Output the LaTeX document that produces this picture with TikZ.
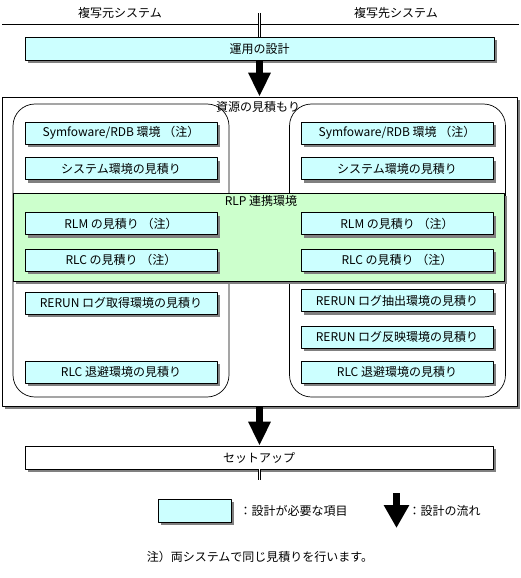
\documentclass[tikz,border=0pt]{standalone}
\usepackage{fontspec}
\setmainfont{Noto Sans CJK JP}
\usetikzlibrary{arrows.meta,shadows}
\definecolor{itemcyan}{RGB}{204,255,255}
\definecolor{rlpgreen}{RGB}{204,255,204}
\begin{document}
\begin{tikzpicture}[x=1pt,y=-1pt,line join=round,line width=.7pt,
	font=\fontsize{12}{14}\selectfont,
	boxshadow/.style={general shadow={fill=gray,shadow xshift=3pt,shadow yshift=-3pt}},
	item/.style={draw,fill=itemcyan,boxshadow,minimum width=192pt,minimum height=22pt,inner sep=0pt},
	wide/.style={draw,boxshadow,minimum width=469pt,minimum height=23pt,inner sep=0pt},
	env/.style={draw,rounded corners=22pt,minimum width=216pt,minimum height=293pt},
	flow/.style={line width=7pt,-{Triangle[width=21pt,length=24pt]}},
	twin/.style={double,double distance=1.6pt}]
	\useasboundingbox (0,0) rectangle (521,578);
	% systems
	\node (src) at (120,13) {複写元システム};
	\node (dst) at (396,13) {複写先システム};
	\coordinate (hl) at (2,24);
	\coordinate (hr) at (519,24);
	\draw (hl) -- (hr);
	\coordinate (dtop) at (259.5,13);
	\node[wide,fill=itemcyan] (design) at (259.5,48.5) {運用の設計};
	\draw[twin] (dtop) -- (dtop |- design.north);
	% resources
	\node[draw,fill=white,boxshadow,minimum width=515pt,minimum height=309pt] (res) at (259.5,251.5) {};
	\draw[flow] (design.south) -- (design.south |- res.north);
	\node (restitle) at (258,107) {資源の見積もり};
	\node[env] (srcenv) at (121,250.5) {};
	\node[env] (dstenv) at (397.5,250.5) {};
	\node[draw,fill=rlpgreen,boxshadow,minimum width=491pt,minimum height=88pt] (rlp) at (258.5,237) {};
	\node (rlptitle) at (261,201) {RLP 連携環境};
	% source side
	\node[item] (s1) at (121,133) {Symfoware/RDB 環境 （注）};
	\node[item] (s2) at (121,168.5) {システム環境の見積り};
	\node[item] (s3) at (121,223.5) {RLM の見積り （注）};
	\node[item] (s4) at (121,260) {RLC の見積り （注）};
	\node[item] (s5) at (121,303) {RERUN ログ取得環境の見積り};
	\node[item] (s6) at (121,372) {RLC 退避環境の見積り};
	% target side
	\node[item] (d1) at (397,133) {Symfoware/RDB 環境 （注）};
	\node[item] (d2) at (397,168.5) {システム環境の見積り};
	\node[item] (d3) at (397,223.5) {RLM の見積り （注）};
	\node[item] (d4) at (397,260) {RLC の見積り （注）};
	\node[item] (d5) at (397,300.5) {RERUN ログ抽出環境の見積り};
	\node[item] (d6) at (397,337) {RERUN ログ反映環境の見積り};
	\node[item] (d7) at (397,372) {RLC 退避環境の見積り};
	% setup
	\node[wide,fill=white,minimum width=468pt] (setup) at (259,457.5) {セットアップ};
	\draw[flow] (res.south) -- (res.south |- setup.north);
	\coordinate (dend) at (259.5,480);
	\draw[twin] (dend |- setup.south) -- (dend);
	% legend
	\node[draw,fill=itemcyan,boxshadow,minimum width=73pt,minimum height=23pt,inner sep=0pt] (key) at (194.5,510.5) {};
	\node[anchor=west] (keytxt) at (236,510.5) {：設計が必要な項目};
	\coordinate (ftop) at (396.5,493);
	\coordinate (fend) at (396.5,528);
	\draw[line width=7pt,-{Triangle[width=24pt,length=23pt]}] (ftop) -- (fend);
	\node[anchor=west] (flowtxt) at (405,510.5) {：設計の流れ};
	\node (note) at (260,557) {注）両システムで同じ見積りを行います。};
\end{tikzpicture}
\end{document}
